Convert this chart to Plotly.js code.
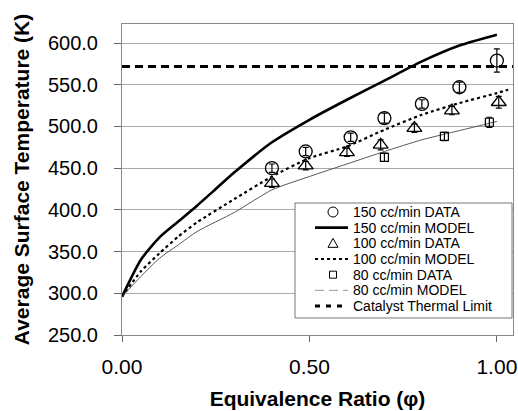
<!DOCTYPE html>
<html><head><meta charset="utf-8">
<script src="https://cdn.plot.ly/plotly-3.0.1.min.js"></script>
<style>html,body{margin:0;padding:0;background:#fff}</style>
</head><body><div id="chart" style="width:518px;height:411px"></div>
<script>
// Measured data (150 cc/min)
const phi150 = [0.40, 0.49, 0.61, 0.70, 0.80, 0.90, 1.00];
const temp150 = [450, 470, 487, 510, 527, 547, 579];
const err150 = [5, 5, 5, 6, 5, 6, 14];
// Measured data (100 cc/min)
const phi100 = [0.40, 0.49, 0.60, 0.69, 0.78, 0.88, 1.005];
const temp100 = [432, 453, 469, 478, 498, 519, 529];
const err100 = [5, 5, 5, 6, 5, 5, 7];
// Measured data (80 cc/min)
const phi80 = [0.70, 0.86, 0.98];
const temp80 = [463, 488, 505];
const err80 = [5, 5, 6];
// Model curves
const phiModel = [0, 0.05, 0.1, 0.15, 0.2, 0.25, 0.3, 0.4, 0.5, 0.6, 0.7, 0.8, 0.9, 1.0];
const model150 = [296, 340, 367, 386, 405, 425, 445, 481, 508, 532, 555, 578, 597, 610];
const phiModel100 = [0, 0.05, 0.1, 0.15, 0.2, 0.3, 0.4, 0.5, 0.6, 0.7, 0.8, 0.9, 1.0, 1.03];
const model100 = [296, 326, 348, 368, 385, 413, 440, 462, 476, 496, 514, 528, 540, 544];
const phiModel80 = [0, 0.05, 0.1, 0.15, 0.2, 0.3, 0.4, 0.5, 0.6, 0.7, 0.8, 0.9, 1.0];
const model80 = [296, 320, 342, 358, 374, 397, 424, 440, 455, 470, 484, 495, 506];
// Catalyst thermal limit
const limitPhi = [0, 1.043];
const limitTemp = [572, 572];
const xTicks = [0, 0.5, 1.0];
const yTicks = [250, 300, 350, 400, 450, 500, 550, 600];
const legendLabels = ['150 cc/min DATA', '150 cc/min MODEL', '100 cc/min DATA', '100 cc/min MODEL',
  '80 cc/min DATA', '80 cc/min MODEL', 'Catalyst Thermal Limit'];

const FONT = 'Arial, "Liberation Sans", sans-serif';
const W = 518, H = 411, ML = 122, MR = 5, MT = 24, MB = 76;
const PW = W - ML - MR, PH = H - MT - MB;
const px = (x) => (x - ML) / PW;          // pixel -> paper x
const py = (y) => (H - MB - y) / PH;      // pixel -> paper y

const eb = (arr) => ({type: 'data', array: arr, visible: true, color: '#000', thickness: 1.2, width: 3});

const traces = [
  {x: phiModel, y: model150, mode: 'lines', showlegend: false,
   line: {color: '#000', width: 2.6, shape: 'spline', smoothing: 0.6}},
  {x: phiModel100, y: model100, mode: 'lines', showlegend: false,
   line: {color: '#000', width: 2.2, dash: '3px,3px', shape: 'spline', smoothing: 0.6}},
  {x: phiModel80, y: model80, mode: 'lines', showlegend: false,
   line: {color: '#444', width: 0.9, shape: 'spline', smoothing: 0.6}},
  {x: limitPhi, y: limitTemp, mode: 'lines', showlegend: false,
   line: {color: '#000', width: 3, dash: '8px,5px'}},
  {x: phi150, y: temp150, mode: 'markers', showlegend: false,
   marker: {symbol: 'circle-open', size: 13, color: '#000', line: {width: 1.3}}, error_y: eb(err150)},
  {x: phi100, y: temp100, mode: 'markers', showlegend: false,
   marker: {symbol: 'triangle-up-open', size: 13, color: '#000', line: {width: 1.3}}, error_y: eb(err100)},
  {x: phi80, y: temp80, mode: 'markers', showlegend: false,
   marker: {symbol: 'square-open', size: 8, color: '#000', line: {width: 1.2}}, error_y: eb(err80)}
];

// Custom legend box (matches the compact row spacing of the original)
const boxL = 295, boxR = 512, boxT = 203, boxB = 318;
const rowY0 = 212, rowStep = 15.67, symX = 333, lineX0 = 315, lineX1 = 348, textX = 352;
const shapes = [
  {type: 'rect', xref: 'paper', yref: 'paper', x0: px(boxL), x1: px(boxR), y0: py(boxB), y1: py(boxT),
   fillcolor: '#fff', line: {color: '#777', width: 1}, layer: 'above'}
];
const annotations = [];
const lineStyles = {1: {color: '#000', width: 2.6}, 3: {color: '#000', width: 2.2, dash: '3px,3px'},
  5: {color: '#999', width: 1, dash: '9px,5px'}, 6: {color: '#000', width: 3, dash: '5px,6px'}};
legendLabels.forEach((lab, i) => {
  const ry = rowY0 + i * rowStep;
  annotations.push({xref: 'paper', yref: 'paper', x: px(textX), y: py(ry), xanchor: 'left', yanchor: 'middle',
    text: lab, showarrow: false, font: {family: FONT, size: 14, color: '#000'}, borderpad: 0});
  if (lineStyles[i]) {
    shapes.push({type: 'line', xref: 'paper', yref: 'paper', x0: px(lineX0), x1: px(lineX1), y0: py(ry), y1: py(ry),
      line: lineStyles[i], layer: 'above'});
  } else {
    const base = {xref: 'paper', yref: 'paper', xsizemode: 'pixel', ysizemode: 'pixel',
      xanchor: px(symX), yanchor: py(ry), line: {color: '#000', width: 1}, layer: 'above'};
    if (i === 0) shapes.push(Object.assign({type: 'circle', x0: -5, x1: 5, y0: -5, y1: 5}, base));
    if (i === 2) shapes.push(Object.assign({type: 'path', path: 'M-5,-4L5,-4L0,5Z'}, base));
    if (i === 4) shapes.push(Object.assign({type: 'rect', x0: -3.5, x1: 3.5, y0: -3.5, y1: 3.5}, base));
  }
});

const layout = {
  width: W, height: H,
  margin: {l: ML, r: MR, t: MT, b: MB},
  paper_bgcolor: '#fff', plot_bgcolor: '#fff',
  font: {family: FONT, color: '#000'},
  showlegend: false,
  shapes: shapes,
  annotations: annotations,
  xaxis: {range: [0, 1.043], tickvals: xTicks, tickformat: '.2f',
    showgrid: false, zeroline: false, showline: true, linecolor: '#888', linewidth: 1, mirror: true,
    ticks: 'outside', ticklen: 6, tickcolor: '#666', ticklabelstandoff: 7,
    tickfont: {family: FONT, size: 21, color: '#000'},
    title: {text: 'Equivalence Ratio (φ)', standoff: 14, font: {family: FONT, size: 21, weight: 'bold', color: '#000'}}},
  yaxis: {range: [250, 622.8], tickvals: yTicks, tickformat: '.1f',
    showgrid: true, gridcolor: '#aaa', gridwidth: 1, zeroline: false,
    showline: true, linecolor: '#888', linewidth: 1, mirror: true,
    ticks: 'outside', ticklen: 7, tickcolor: '#666', ticklabelstandoff: 12,
    tickfont: {family: FONT, size: 20, color: '#000'},
    title: {text: 'Average Surface Temperature (K)', standoff: 12, font: {family: FONT, size: 21, weight: 'bold', color: '#000'}}}
};

Plotly.newPlot('chart', traces, layout, {staticPlot: true, displayModeBar: false});
</script>
</body></html>
